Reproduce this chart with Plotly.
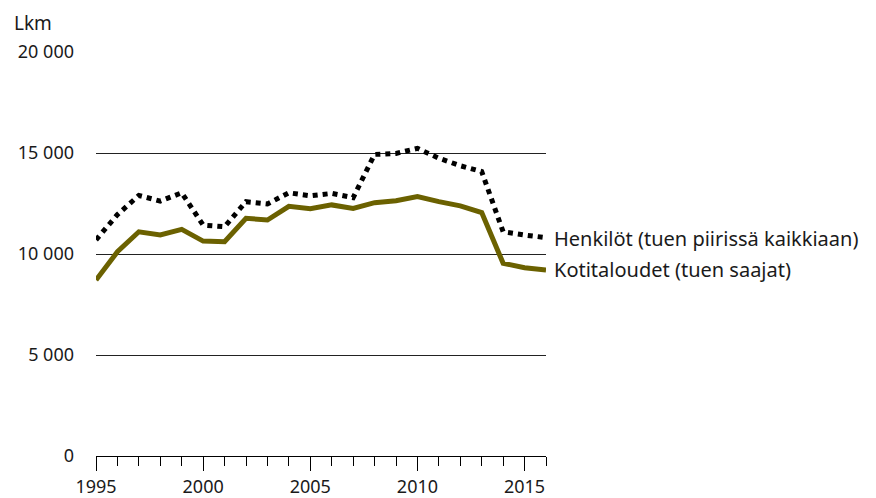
import plotly.graph_objects as go

years = list(range(1995, 2017))
henkilot = [10700, 11950, 12900, 12620, 13030, 11430, 11350, 12590, 12480, 13030,
            12880, 13000, 12790, 14930, 14980, 15230, 14740, 14370, 14080, 11100,
            10940, 10810]
kotitaloudet = [8710, 10110, 11100, 10940, 11220, 10640, 10610, 11770, 11680, 12360,
                12240, 12430, 12260, 12540, 12640, 12840, 12590, 12380, 12050, 9540,
                9320, 9210]
name_h = "Henkilöt (tuen piirissä kaikkiaan)"
name_k = "Kotitaloudet (tuen saajat)"
y_ticks = [0, 5000, 10000, 15000, 20000]
y_ticktext = ["0", "5 000", "10 000", "15 000", "20 000"]
x_ticks = [1995, 2000, 2005, 2010, 2015]

FONT = "Noto Sans"
TXT = "#1a1a1a"
fig = go.Figure()
fig.add_trace(go.Scatter(x=years, y=kotitaloudet, mode="lines", name=name_k,
                         line=dict(color="#6b6100", width=5), cliponaxis=False))
fig.add_trace(go.Scatter(x=years, y=henkilot, mode="lines", name=name_h,
                         line=dict(color="#000000", width=5, dash="dot"), cliponaxis=False))

fig.add_annotation(x=years[-1], y=henkilot[-1], text=name_h, xref="x", yref="y",
                   xanchor="left", yanchor="middle", xshift=6, yshift=-1, showarrow=False,
                   font=dict(family=FONT, size=20, color=TXT))
fig.add_annotation(x=years[-1], y=kotitaloudet[-1], text=name_k, xref="x", yref="y",
                   xanchor="left", yanchor="middle", xshift=6, yshift=0, showarrow=False,
                   font=dict(family=FONT, size=20, color=TXT))
fig.add_annotation(x=0, y=1, xref="paper", yref="paper", text="Lkm", showarrow=False,
                   xanchor="left", yanchor="bottom", xshift=-84, yshift=14,
                   font=dict(family=FONT, size=19, color=TXT))

# the page body has an 8px margin, so the figure is sized to end at the window edge
fig.update_layout(
    width=868, height=490,
    margin=dict(l=88, r=330, t=44, b=42, pad=0, autoexpand=False),
    plot_bgcolor="white", paper_bgcolor="white",
    showlegend=False,
    font=dict(family=FONT, size=18, color=TXT),
    xaxis=dict(range=[1995, 2016], tickvals=x_ticks, ticks="outside", ticklen=14,
               tickcolor="#000", tickwidth=1, showgrid=False, zeroline=False,
               showline=True, linecolor="#000", linewidth=1, automargin=False,
               minor=dict(dtick=1, tick0=1995, ticks="outside", ticklen=9,
                          tickcolor="#000", tickwidth=1, showgrid=False),
               tickfont=dict(family=FONT, size=18, color=TXT)),
    yaxis=dict(range=[0, 20000], tickvals=y_ticks, ticktext=y_ticktext,
               showgrid=True, gridcolor="#222", gridwidth=1, zeroline=False,
               showline=False, ticks="", ticklabelstandoff=21, automargin=False,
               tickfont=dict(family=FONT, size=18, color=TXT)),
)
fig.write_html("out.html")
